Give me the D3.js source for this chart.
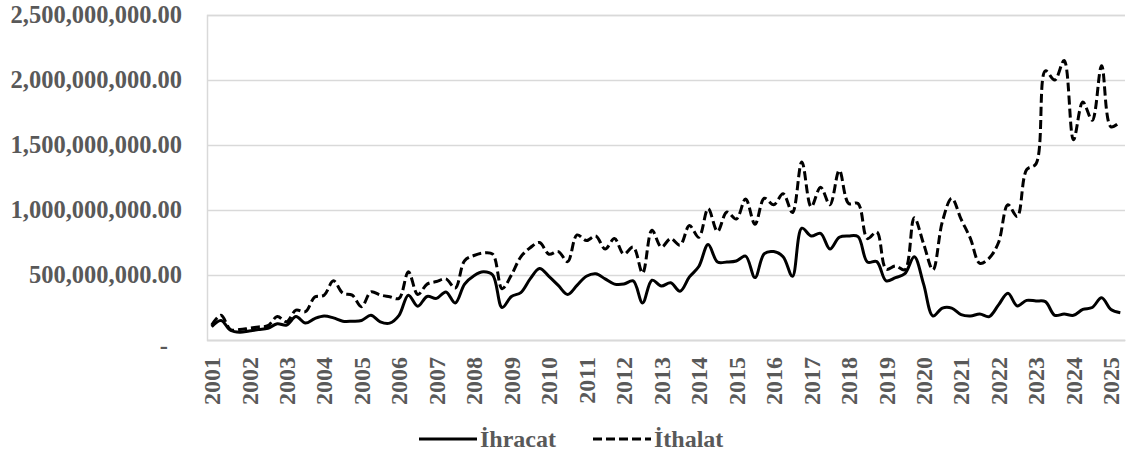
<!DOCTYPE html>
<html>
<head>
<meta charset="utf-8">
<script src="https://cdn.jsdelivr.net/npm/d3@7"></script>
<style>
  body { margin: 0; background: #fff; }
  text { font-family: "Liberation Serif", "Times New Roman", serif; font-weight: bold; fill: #595959; }
</style>
</head>
<body>
<script>
// quarterly values, millions
var years = [2001, 2002, 2003, 2004, 2005, 2006, 2007, 2008, 2009, 2010, 2011, 2012, 2013,
             2014, 2015, 2016, 2017, 2018, 2019, 2020, 2021, 2022, 2023, 2024, 2025];
var quarters = ["Q1", "Q2", "Q3", "Q4"];

var ihracat = [
  102, 150, 75, 60, 70, 80, 90, 125, 115, 180,
  130, 165, 185, 170, 145, 145, 150, 190, 140, 130,
  190, 345, 260, 335, 320, 370, 285, 430, 495, 525,
  500, 250, 335, 365, 470, 550, 490, 420, 350, 420,
  490, 510, 470, 430, 430, 455, 285, 460, 415, 440,
  375, 485, 565, 735, 600, 600, 608, 645, 480, 665,
  680, 640, 490, 860, 800, 820, 700, 790, 800, 795,
  600, 603, 455, 480, 510, 640, 430, 185, 245, 245,
  195, 185, 200, 180, 270, 360, 262, 305, 300, 295,
  190, 200, 190, 235, 250, 325, 235, 210
];

var ithalat = [
  115, 190, 80, 80, 90, 100, 110, 180, 140, 230,
  218, 330, 345, 455, 360, 345, 256, 370, 346, 333,
  320, 525, 350, 430, 450, 470, 400, 610, 650, 670,
  660, 395, 500, 640, 710, 750, 660, 680, 603, 808,
  765, 800, 700, 780, 660, 715, 515, 845, 715, 780,
  730, 880, 790, 1010, 835, 985, 930, 1085, 890, 1090,
  1040, 1125, 980, 1370, 1025, 1175, 1040, 1305, 1050, 1050,
  780, 830, 545, 570, 540, 940, 740, 540, 910, 1090,
  930, 780, 590, 630, 750, 1040, 950, 1310, 1355, 2070,
  2000, 2150, 1540, 1830, 1690, 2110, 1640, 1680
];

var yTicks = [0, 500e6, 1000e6, 1500e6, 2000e6, 2500e6];

var periods = [];
years.forEach(function(yr) {
  quarters.forEach(function(q) { periods.push(yr + "-" + q); });
});
periods = periods.slice(0, ihracat.length);

var W = 1127, H = 457;
var margin = {top: 15, right: 2, bottom: 117, left: 207};
var width = W - margin.left - margin.right,
    height = H - margin.top - margin.bottom;

var x = d3.scaleBand().domain(periods).range([0, width]);
var y = d3.scaleLinear().domain([0, 2500e6]).range([height, 0]);

var svg = d3.select("body").append("svg")
  .attr("width", W)
  .attr("height", H);

var main = svg.append("g")
  .attr("transform", "translate(" + margin.left + "," + margin.top + ")");

// y axis with gridlines
var fmt = d3.format(",.2f");
var yAxis = d3.axisLeft(y)
  .tickValues(yTicks)
  .tickSize(-width)
  .tickPadding(25)
  .tickFormat(function(d) { return d === 0 ? "-" : fmt(d); });

var gy = main.append("g").call(yAxis);
gy.selectAll(".tick line").attr("stroke", "#d9d9d9").attr("stroke-width", 1.5);
gy.select(".domain").attr("stroke", "#d9d9d9").attr("stroke-width", 1.5);
gy.selectAll(".tick text")
  .style("font-size", "24.5px")
  .filter(function(d) { return d === 0; })
  .attr("x", -39)
  .attr("dy", "0.55em");

// x axis, a year label on every first quarter
var xAxis = d3.axisBottom(x)
  .tickValues(periods.filter(function(p) { return p.slice(-2) === "Q1"; }))
  .tickSize(0)
  .tickSizeOuter(0)
  .tickFormat(function(p) { return p.slice(0, 4); });

var gx = main.append("g")
  .attr("transform", "translate(0," + height + ")")
  .call(xAxis);
gx.select(".domain").attr("stroke", "#d9d9d9").attr("stroke-width", 1.5);
gx.selectAll(".tick text")
  .style("font-size", "24px")
  .attr("transform", "rotate(-90)")
  .attr("text-anchor", "end")
  .attr("x", -17)
  .attr("y", 0)
  .attr("dy", "0.35em");

var line = d3.line()
  .x(function(d, i) { return x(periods[i]) + x.bandwidth() / 2; })
  .y(function(d) { return y(d * 1e6); })
  .curve(d3.curveCatmullRom.alpha(0.5));

main.append("path")
  .datum(ihracat)
  .attr("d", line)
  .attr("fill", "none")
  .attr("stroke", "#000")
  .attr("stroke-width", 3);

main.append("path")
  .datum(ithalat)
  .attr("d", line)
  .attr("fill", "none")
  .attr("stroke", "#000")
  .attr("stroke-width", 3)
  .attr("stroke-dasharray", "9,4");

// legend
var legend = svg.append("g").attr("transform", "translate(0,439)");
var items = [
  {name: "İhracat", x: 419, dash: null},
  {name: "İthalat", x: 593, dash: "9,4"}
];
items.forEach(function(it) {
  legend.append("line")
    .attr("x1", it.x).attr("x2", it.x + 58)
    .attr("y1", 0).attr("y2", 0)
    .attr("stroke", "#000")
    .attr("stroke-width", 3)
    .attr("stroke-dasharray", it.dash);
  legend.append("text")
    .attr("x", it.x + 61)
    .attr("y", 0)
    .attr("dy", "0.32em")
    .style("font-size", "24px")
    .text(it.name);
});
</script>
</body>
</html>
